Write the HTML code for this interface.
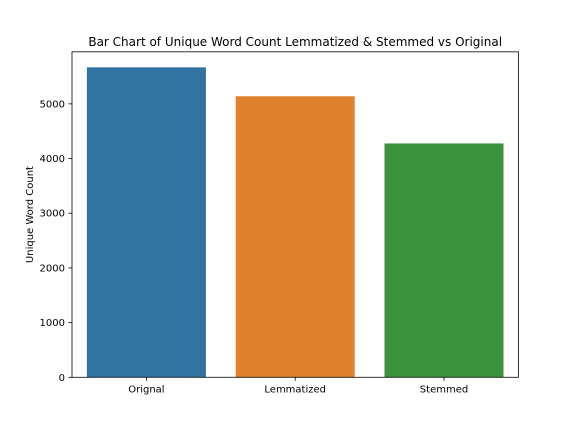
<!DOCTYPE html>
<html><head><meta charset="utf-8"><style>
body{margin:0;background:#fff;}
svg{display:block;font-family:"DejaVu Sans","Liberation Sans",sans-serif;}
</style></head><body>
<svg id="chart" width="576" height="432"></svg>
<script>
const categories = ["Orignal", "Lemmatized", "Stemmed"];
const values = [5668, 5139, 4276];
const yTicks = [0, 1000, 2000, 3000, 4000, 5000];
const colors = ["#3274a1", "#e1812c", "#3a923a"];

const svg = document.getElementById('chart');
const NS = 'http://www.w3.org/2000/svg';
const L = 72, R = 518.4, T = 51.84, B = 377.28;
const yMax = Math.max(...values) * 1.05;
const xScale = v => L + (v + 0.5) / categories.length * (R - L);
const yScale = v => B - v / yMax * (B - T);
function mk(tag, attrs, text) {
  const e = document.createElementNS(NS, tag);
  for (const k in attrs) e.setAttribute(k, attrs[k]);
  if (text !== undefined) e.textContent = text;
  svg.appendChild(e);
  return e;
}
categories.forEach((c, i) => {
  const r = mk('rect', {x: xScale(i - 0.4), y: yScale(values[i]), width: xScale(i + 0.4) - xScale(i - 0.4), height: B - yScale(values[i]), fill: colors[i]});
  
  
  const tk = mk('line', {x1: xScale(i), x2: xScale(i), y1: B, y2: B + 3.5, stroke: '#000', 'stroke-width': 0.8});
  
  
  const t = mk('text', {x: xScale(i), y: B + 15, 'text-anchor': 'middle', 'font-size': 10}, c);
  
  
});
yTicks.forEach(v => {
  const tk = mk('line', {x1: L - 3.5, x2: L, y1: yScale(v), y2: yScale(v), stroke: '#000', 'stroke-width': 0.8});
  
  
  const t = mk('text', {x: L - 7, y: yScale(v) + 3.5, 'text-anchor': 'end', 'font-size': 10}, v);
  
  
});
const frame = mk('rect', {x: L, y: T, width: R - L, height: B - T, fill: 'none', stroke: '#000', 'stroke-width': 0.8});


const yl = mk('text', {x: 0, y: 0, transform: 'translate(33,' + ((T + B) / 2) + ') rotate(-90)', 'text-anchor': 'middle', 'font-size': 10}, 'Unique Word Count');


const title = mk('text', {x: (L + R) / 2, y: 46, 'text-anchor': 'middle', 'font-size': 12}, 'Bar Chart of Unique Word Count Lemmatized & Stemmed vs Original');


</script>
</body></html>
